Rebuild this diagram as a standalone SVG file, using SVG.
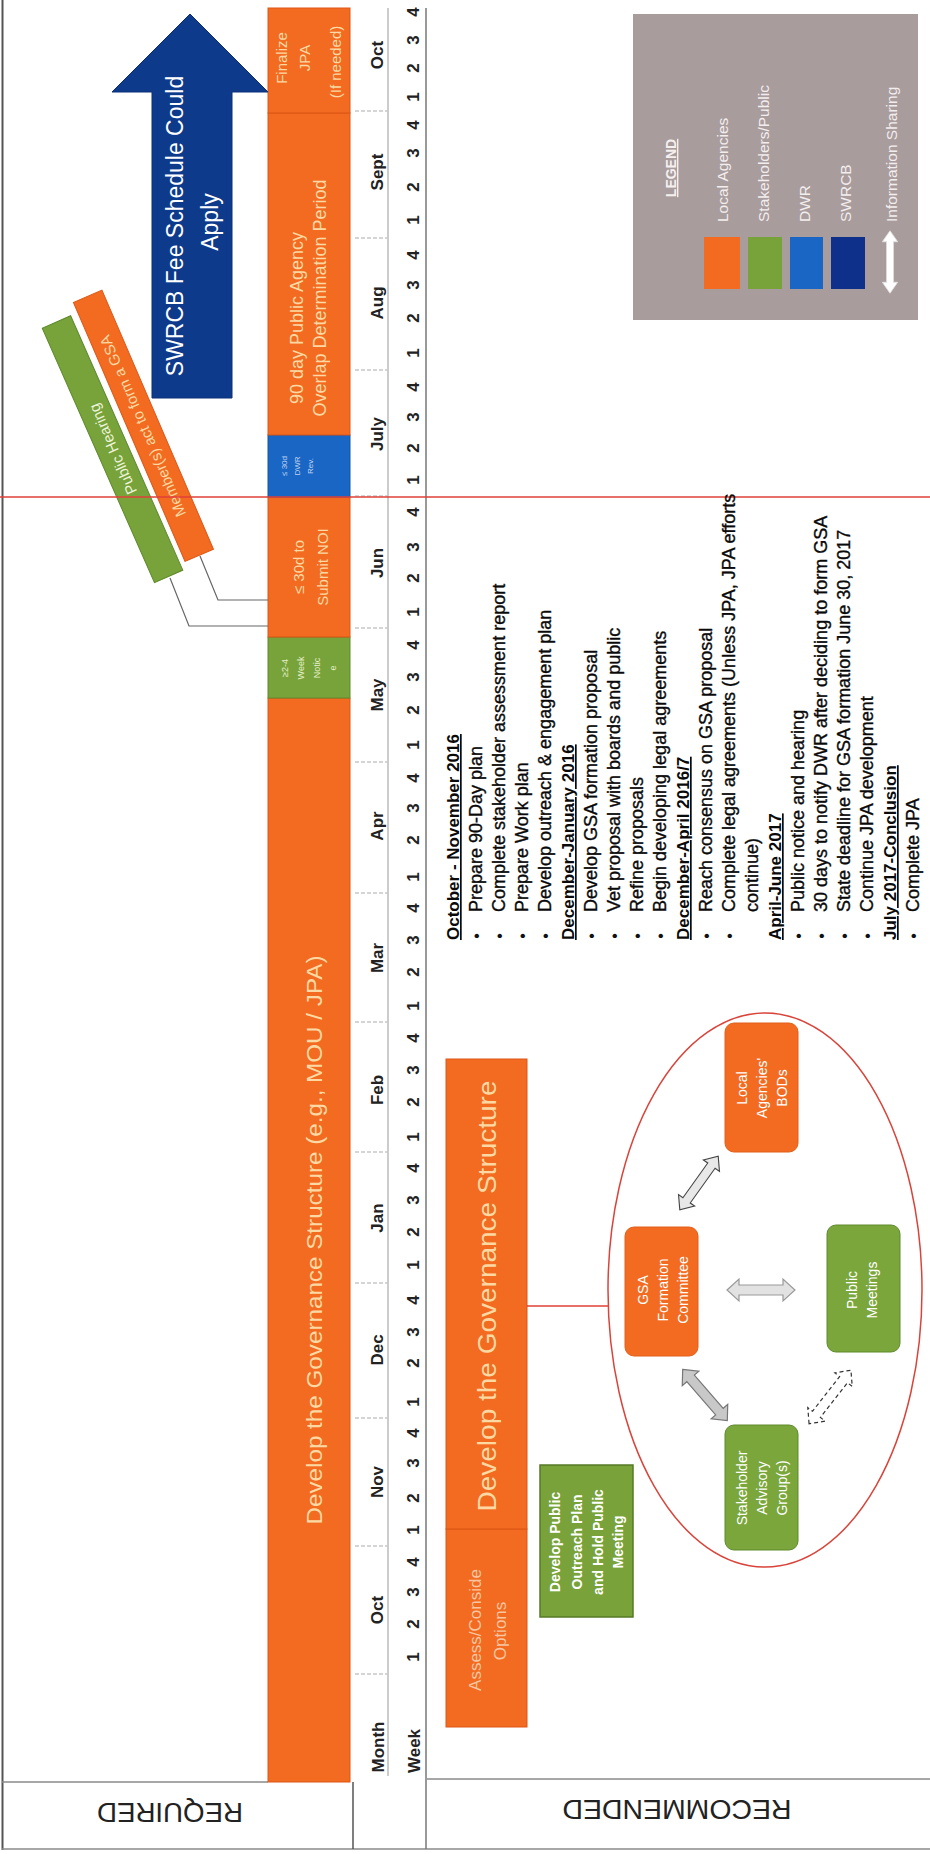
<svg xmlns="http://www.w3.org/2000/svg" xmlns:xlink="http://www.w3.org/1999/xlink" width="930" height="1854" viewBox="0 0 930 1854">
<defs>
<style>
text{font-family:"Liberation Sans",Arial,sans-serif}
.wk{font-size:17px;font-weight:bold;fill:#222;text-anchor:middle}
.li{font-size:18px;fill:#0a0a0a;stroke:#0a0a0a;stroke-width:0.35}
.hd{font-size:17px;font-weight:bold;fill:#0a0a0a;text-decoration:underline}
.bu{font-size:16px;fill:#111;text-anchor:middle}
.lg{font-size:15.5px;fill:#f3eeee}
.bx{font-size:14px;fill:#fff;text-anchor:middle}
.bar{fill:#f26b21;stroke:#dd5716;stroke-width:1}
.cream{fill:#fcd9a3;text-anchor:middle}
.sep{stroke:#c8c8c8;stroke-width:1.5;stroke-dasharray:4 2}
.frame{stroke:#8a8a8a;stroke-width:1.5;fill:none}
</style>
<polygon id="dbl" points="-34,0 -22,-11 -22,-5 22,-5 22,-11 34,0 22,11 22,5 -22,5 -22,11"/>
</defs>
<rect width="930" height="1854" fill="#fff"/>

<g id="frame">
<line class="frame" x1="2.5" y1="0" x2="2.5" y2="1850" style="stroke:#555;stroke-width:2"/>
<line class="frame" x1="2" y1="1849" x2="930" y2="1849"/>
<line class="frame" x1="2" y1="1782" x2="268" y2="1782"/>
<line class="frame" x1="353" y1="1782" x2="353" y2="1849" style="stroke:#555"/>
<line class="frame" x1="426" y1="8" x2="426" y2="1849" style="stroke:#777"/>
<line class="frame" x1="388" y1="8" x2="388" y2="1776" style="stroke:#aaa;stroke-width:1.2"/>
<line class="frame" x1="427" y1="1779" x2="930" y2="1779"/>
</g>

<g id="row-labels">
<text transform="translate(170,1803) rotate(180)" text-anchor="middle" font-size="28" textLength="146" lengthAdjust="spacingAndGlyphs" fill="#222">REQUIRED</text>
<text transform="translate(677,1800) rotate(180)" text-anchor="middle" font-size="28" textLength="229" lengthAdjust="spacingAndGlyphs" fill="#222">RECOMMENDED</text>
</g>

<g id="month-separators">
<line class="sep" x1="355" y1="1674" x2="388" y2="1674"/>
<line class="sep" x1="355" y1="1546" x2="388" y2="1546"/>
<line class="sep" x1="355" y1="1418" x2="388" y2="1418"/>
<line class="sep" x1="355" y1="1283" x2="388" y2="1283"/>
<line class="sep" x1="355" y1="1152" x2="388" y2="1152"/>
<line class="sep" x1="355" y1="1022" x2="388" y2="1022"/>
<line class="sep" x1="355" y1="893" x2="388" y2="893"/>
<line class="sep" x1="355" y1="762" x2="388" y2="762"/>
<line class="sep" x1="355" y1="628" x2="388" y2="628"/>
<line class="sep" x1="355" y1="496" x2="388" y2="496"/>
<line class="sep" x1="355" y1="370" x2="388" y2="370"/>
<line class="sep" x1="355" y1="238" x2="388" y2="238"/>
<line class="sep" x1="355" y1="111" x2="388" y2="111"/>
</g>

<g id="months" transform="translate(383,0) rotate(-90)">
<text class="wk" x="-1747" y="1">Month</text>
<text class="wk" x="-1610" y="0">Oct</text>
<text class="wk" x="-1482" y="0">Nov</text>
<text class="wk" x="-1350" y="0">Dec</text>
<text class="wk" x="-1218" y="0">Jan</text>
<text class="wk" x="-1090" y="0">Feb</text>
<text class="wk" x="-958" y="0">Mar</text>
<text class="wk" x="-826" y="0">Apr</text>
<text class="wk" x="-695" y="0">May</text>
<text class="wk" x="-563" y="0">Jun</text>
<text class="wk" x="-434" y="0">July</text>
<text class="wk" x="-303" y="0">Aug</text>
<text class="wk" x="-172" y="0">Sept</text>
<text class="wk" x="-55" y="0">Oct</text>
</g>

<g id="weeks" transform="translate(419,0) rotate(-90)">
<text class="wk" x="-1751" y="1">Week</text>
<text class="wk" x="-1657">1</text><text class="wk" x="-1624">2</text><text class="wk" x="-1592">3</text><text class="wk" x="-1562">4</text>
<text class="wk" x="-1530">1</text><text class="wk" x="-1498">2</text><text class="wk" x="-1463">3</text><text class="wk" x="-1433">4</text>
<text class="wk" x="-1402">1</text><text class="wk" x="-1363">2</text><text class="wk" x="-1332">3</text><text class="wk" x="-1300">4</text>
<text class="wk" x="-1265">1</text><text class="wk" x="-1232">2</text><text class="wk" x="-1200">3</text><text class="wk" x="-1168">4</text>
<text class="wk" x="-1137">1</text><text class="wk" x="-1102">2</text><text class="wk" x="-1070">3</text><text class="wk" x="-1038">4</text>
<text class="wk" x="-1006">1</text><text class="wk" x="-972">2</text><text class="wk" x="-940">3</text><text class="wk" x="-908">4</text>
<text class="wk" x="-877">1</text><text class="wk" x="-840">2</text><text class="wk" x="-808">3</text><text class="wk" x="-778">4</text>
<text class="wk" x="-745">1</text><text class="wk" x="-710">2</text><text class="wk" x="-677">3</text><text class="wk" x="-645">4</text>
<text class="wk" x="-612">1</text><text class="wk" x="-578">2</text><text class="wk" x="-547">3</text><text class="wk" x="-512">4</text>
<text class="wk" x="-480">1</text><text class="wk" x="-448">2</text><text class="wk" x="-417">3</text><text class="wk" x="-387">4</text>
<text class="wk" x="-353">1</text><text class="wk" x="-318">2</text><text class="wk" x="-285">3</text><text class="wk" x="-255">4</text>
<text class="wk" x="-220">1</text><text class="wk" x="-187">2</text><text class="wk" x="-153">3</text><text class="wk" x="-125">4</text>
<text class="wk" x="-97">1</text><text class="wk" x="-68">2</text><text class="wk" x="-40">3</text><text class="wk" x="-12">4</text>
</g>

<g id="required-bar">
<rect class="bar" x="268" y="698" width="82" height="1084"/>
<rect x="268" y="637" width="82" height="61" fill="#77a33a" stroke="#5f8a2c"/>
<rect class="bar" x="268" y="497" width="82" height="140"/>
<rect x="268" y="435" width="82" height="62" fill="#1a66c4" stroke="#1556a8"/>
<rect class="bar" x="268" y="113" width="82" height="322" fill="#f37128"/>
<rect class="bar" x="268" y="8" width="82" height="105"/>
<g transform="rotate(-90)">
<text class="cream" x="-1240" y="322" font-size="22" textLength="569" lengthAdjust="spacingAndGlyphs">Develop the Governance Structure (e.g., MOU / JPA)</text>
<text x="-668" y="288" font-size="9" fill="#e6efc8" text-anchor="middle">≥2-4</text>
<text x="-668" y="304" font-size="9" fill="#e6efc8" text-anchor="middle">Week</text>
<text x="-668" y="320" font-size="9" fill="#e6efc8" text-anchor="middle">Notic</text>
<text x="-668" y="336" font-size="9" fill="#e6efc8" text-anchor="middle">e</text>
<text class="cream" x="-567" y="304" font-size="15">≤ 30d to</text>
<text class="cream" x="-567" y="328" font-size="15">Submit NOI</text>
<text x="-466" y="287" font-size="8" fill="#c0d4f0" text-anchor="middle">≤ 30d</text>
<text x="-466" y="300" font-size="8" fill="#c0d4f0" text-anchor="middle">DWR</text>
<text x="-466" y="313" font-size="8" fill="#c0d4f0" text-anchor="middle">Rev.</text>
<text class="cream" x="-318" y="303" font-size="18">90 day Public Agency</text>
<text class="cream" x="-298" y="326" font-size="18">Overlap Determination Period</text>
<text class="cream" x="-58" y="287" font-size="15">Finalize</text>
<text class="cream" x="-58" y="310" font-size="15">JPA</text>
<text class="cream" x="-62" y="341" font-size="15">(If needed)</text>
</g>
</g>

<g id="swrcb-arrow">
<polygon points="152,398 152,92 112,92 190,14 268,92 232,92 232,398" fill="#0e3a8c" stroke="#0a2f75" stroke-width="1"/>
<g transform="rotate(-90)">
<text x="-226" y="183" font-size="23" fill="#fff" text-anchor="middle">SWRCB Fee Schedule Could</text>
<text x="-222" y="218" font-size="23" fill="#fff" text-anchor="middle">Apply</text>
</g>
</g>

<g id="public-hearing" transform="translate(113,449) rotate(-113.8)">
<rect x="-139" y="-16" width="278" height="31" fill="#77a33a" stroke="#5f8a2c"/>
<text x="0" y="5" font-size="15" fill="#eef4dc" text-anchor="middle">Public Hearing</text>
</g>
<g id="member-act" transform="translate(143,426) rotate(-113.3)">
<rect x="-141" y="-15" width="282" height="31" fill="#f26b21" stroke="#dd5716"/>
<text x="0" y="5" font-size="15" fill="#fcd9a3" text-anchor="middle">Member(s) act to form a GSA</text>
</g>

<g id="legend">
<rect x="633" y="14" width="285" height="306" fill="#a99c9d"/>
<rect x="704" y="237" width="36" height="52" fill="#f26b21"/>
<rect x="748" y="237" width="34" height="52" fill="#77a33a"/>
<rect x="790" y="237" width="33" height="52" fill="#1a66c4"/>
<rect x="831" y="237" width="34" height="52" fill="#0e2f8a"/>
<use xlink:href="#dbl" transform="translate(890,262) rotate(90) scale(0.92,0.7)" fill="#fff" stroke="#ddd"/>
<g transform="rotate(-90)">
<text x="-168" y="676" font-size="14" font-weight="bold" fill="#f5f0f0" text-anchor="middle" text-decoration="underline">LEGEND</text>
<text class="lg" x="-222" y="728">Local Agencies</text>
<text class="lg" x="-222" y="769">Stakeholders/Public</text>
<text class="lg" x="-222" y="810">DWR</text>
<text class="lg" x="-222" y="851">SWRCB</text>
<text class="lg" x="-222" y="897">Information Sharing</text>
</g>
</g>

<g id="recommended-bar">
<rect class="bar" x="446" y="1529" width="81" height="198"/>
<rect class="bar" x="446" y="1059" width="81" height="470"/>
<g transform="rotate(-90)">
<text x="-1630" y="481" font-size="17" fill="#f7c6a0" text-anchor="middle">Assess/Conside</text>
<text x="-1631" y="506" font-size="17" fill="#f7c6a0" text-anchor="middle">Options</text>
<text class="cream" x="-1296" y="496" font-size="25" textLength="431" lengthAdjust="spacingAndGlyphs" fill="#fde3ad">Develop the Governance Structure</text>
</g>
</g>

<g id="develop-public-outreach">
<rect x="540" y="1465" width="93" height="152" fill="#79a23a" stroke="#557a26" stroke-width="1.5"/>
<g transform="rotate(-90)">
<text class="bx" x="-1542" y="560" font-weight="bold" font-size="14.5">Develop Public</text>
<text class="bx" x="-1542" y="582" font-weight="bold" font-size="14.5">Outreach Plan</text>
<text class="bx" x="-1542" y="603" font-weight="bold" font-size="14.5">and Hold Public</text>
<text class="bx" x="-1542" y="623" font-weight="bold" font-size="14.5">Meeting</text>
</g>
</g>

<g id="governance-oval">
<ellipse cx="765" cy="1290" rx="157" ry="277" fill="#fff" stroke="#d9443a" stroke-width="1.5"/>
</g>

<g id="gsa-formation-committee">
<rect x="625" y="1227" width="73" height="129" rx="9" fill="#f26b21" stroke="#e0601a"/>
<g transform="rotate(-90)">
<text class="bx" x="-1290" y="648">GSA</text>
<text class="bx" x="-1290" y="668">Formation</text>
<text class="bx" x="-1290" y="688">Committee</text>
</g>
</g>
<g id="local-agencies-bods">
<rect x="725" y="1023" width="73" height="129" rx="9" fill="#f26b21" stroke="#e0601a"/>
<g transform="rotate(-90)">
<text class="bx" x="-1088" y="747">Local</text>
<text class="bx" x="-1088" y="767">Agencies'</text>
<text class="bx" x="-1088" y="787">BODs</text>
</g>
</g>
<g id="public-meetings">
<rect x="827" y="1225" width="73" height="127" rx="9" fill="#7aa63c" stroke="#5f8a2c"/>
<g transform="rotate(-90)">
<text class="bx" x="-1290" y="857" fill="#e4edd0">Public</text>
<text class="bx" x="-1290" y="877" fill="#e4edd0">Meetings</text>
</g>
</g>
<g id="stakeholder-advisory">
<rect x="725" y="1425" width="73" height="125" rx="9" fill="#7aa63c" stroke="#5f8a2c"/>
<g transform="rotate(-90)">
<text class="bx" x="-1488" y="747" fill="#e4edd0">Stakeholder</text>
<text class="bx" x="-1488" y="767" fill="#e4edd0">Advisory</text>
<text class="bx" x="-1488" y="787" fill="#e4edd0">Group(s)</text>
</g>
</g>

<g id="connectors">
<polyline points="200,556 218,600 268,600" fill="none" stroke="#666" stroke-width="1.2"/>
<polyline points="170,578 189,626 268,626" fill="none" stroke="#666" stroke-width="1.2"/>
<line x1="0" y1="497" x2="930" y2="497" stroke="#e0403a" stroke-width="1.6"/>
<line x1="527" y1="1306" x2="608" y2="1306" stroke="#e0403a" stroke-width="1.6"/>
<use xlink:href="#dbl" transform="translate(699,1183) rotate(-54.4) scale(0.97,0.9)" fill="#e8e8e8" stroke="#444" stroke-width="1.2"/>
<use xlink:href="#dbl" transform="translate(761,1290)" fill="#e2e2e2" stroke="#999" stroke-width="1.2"/>
<use xlink:href="#dbl" transform="translate(705,1395) rotate(49)" fill="#c8c8c8" stroke="#777" stroke-width="1.2"/>
<use xlink:href="#dbl" transform="translate(830,1397) rotate(-52)" fill="#fff" stroke="#333" stroke-width="1.2" stroke-dasharray="4 3"/>
</g>

<g id="timeline-notes" transform="rotate(-90)">
<text class="hd" x="-940" y="459">October - November 2016</text>
<text class="bu" x="-936" y="482">•</text><text class="li" x="-912" y="482">Prepare 90-Day plan</text>
<text class="bu" x="-936" y="505">•</text><text class="li" x="-912" y="505">Complete stakeholder assessment report</text>
<text class="bu" x="-936" y="528">•</text><text class="li" x="-912" y="528">Prepare Work plan</text>
<text class="bu" x="-936" y="551">•</text><text class="li" x="-912" y="551">Develop outreach &amp; engagement plan</text>
<text class="hd" x="-940" y="574">December-January 2016</text>
<text class="bu" x="-936" y="597">•</text><text class="li" x="-912" y="597">Develop GSA formation proposal</text>
<text class="bu" x="-936" y="620">•</text><text class="li" x="-912" y="620">Vet proposal with boards and public</text>
<text class="bu" x="-936" y="643">•</text><text class="li" x="-912" y="643">Refine proposals</text>
<text class="bu" x="-936" y="666">•</text><text class="li" x="-912" y="666">Begin developing legal agreements</text>
<text class="hd" x="-940" y="689">December-April 2016/7</text>
<text class="bu" x="-936" y="712">•</text><text class="li" x="-912" y="712">Reach consensus on GSA proposal</text>
<text class="bu" x="-936" y="735">•</text><text class="li" x="-912" y="735">Complete legal agreements (Unless JPA, JPA efforts</text>
<text class="li" x="-912" y="758">continue)</text>
<text class="hd" x="-940" y="781">April-June 2017</text>
<text class="bu" x="-936" y="804">•</text><text class="li" x="-912" y="804">Public notice and hearing</text>
<text class="bu" x="-936" y="827">•</text><text class="li" x="-912" y="827">30 days to notify DWR after deciding to form GSA</text>
<text class="bu" x="-936" y="850">•</text><text class="li" x="-912" y="850">State deadline for GSA formation June 30, 2017</text>
<text class="bu" x="-936" y="873">•</text><text class="li" x="-912" y="873">Continue JPA development</text>
<text class="hd" x="-940" y="896">July 2017-Conclusion</text>
<text class="bu" x="-936" y="919">•</text><text class="li" x="-912" y="919">Complete JPA</text>
</g>
</svg>
